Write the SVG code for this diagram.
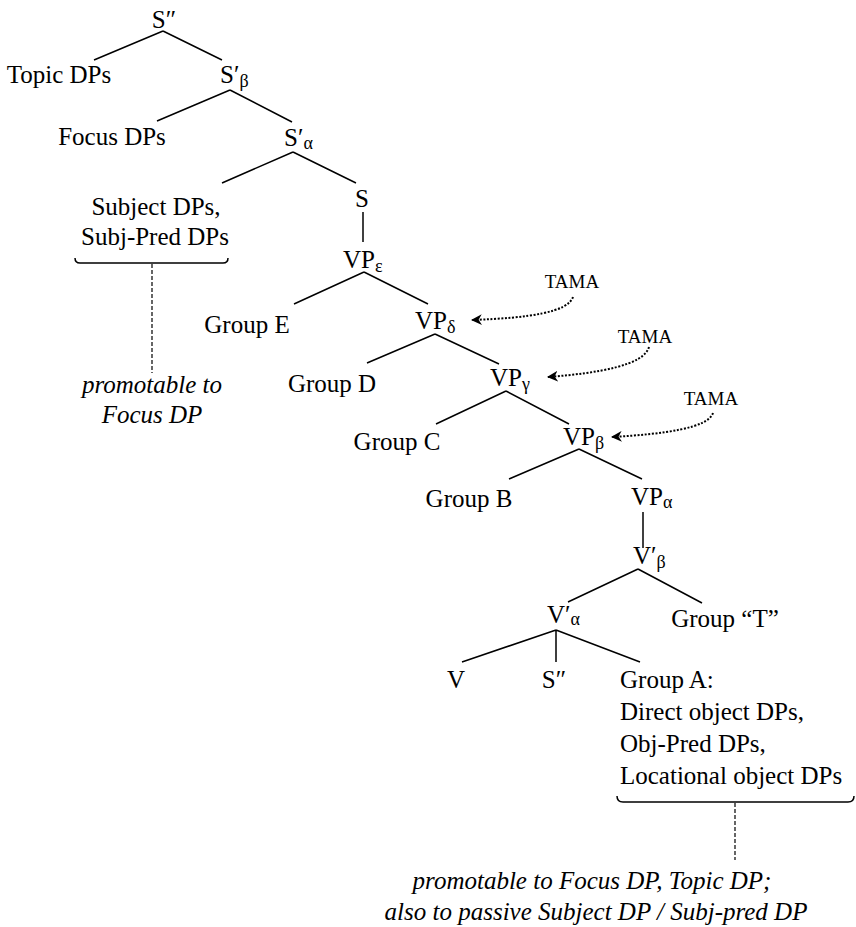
<svg xmlns="http://www.w3.org/2000/svg" width="856" height="927" viewBox="0 0 856 927">
<style>
text{font-family:"Liberation Serif","Times New Roman",serif;font-size:25px;fill:#000}
.m{text-anchor:middle}
.sub{font-size:18px}
.it{font-style:italic}
.tama{font-size:19px;text-anchor:middle}
.edge{stroke:#000;stroke-width:1.5;fill:none}
.dash{stroke:#000;stroke-width:1.2;stroke-dasharray:4 2;fill:none}
.dot{stroke:#000;stroke-width:2;stroke-dasharray:2 1.6;fill:none}
.brace{stroke:#000;stroke-width:1.5;fill:none}
</style>
<defs>
<marker id="ah" viewBox="0 0 10 10" refX="9" refY="5" markerWidth="11" markerHeight="11" markerUnits="userSpaceOnUse" orient="auto">
<path d="M0,0 L10,5 L0,10 L3,5 z" fill="#000"/>
</marker>
</defs>
<g id="connectors">
<path class="edge" d="M163,31 L94,60 M163,31 L222,60"/>
<path class="edge" d="M230,90 L157,121 M230,90 L292,122"/>
<path class="edge" d="M293,152 L222,183 M293,152 L356,183"/>
<path class="edge" d="M363,212 L363,242"/>
<path class="edge" d="M364,272 L294,304 M364,272 L428,304"/>
<path class="edge" d="M435,334 L367,363 M435,334 L499,364"/>
<path class="edge" d="M506,391 L436,424 M506,391 L569,424"/>
<path class="edge" d="M579,449 L509,479 M579,449 L642,479"/>
<path class="edge" d="M643,512 L643,548"/>
<path class="edge" d="M638,569 L568,602 M638,569 L702,603"/>
<path class="edge" d="M556,630 L462,662 M556,630 L556,662 M556,630 L640,662"/>
<path class="brace" d="M75,258 Q75,263 80,263 L223,263 Q228,263 228,258"/>
<path class="dash" d="M152,264 L152,373"/>
<path class="brace" d="M617,796 Q617,802 623,802 L848,802 Q854,802 854,796"/>
<path class="dash" d="M735,803 L735,860"/>
<path class="dot" d="M573,297 C568,312 530,318 472,320" marker-end="url(#ah)"/>
<path class="dot" d="M649,347 C644,365 600,373 548,377" marker-end="url(#ah)"/>
<path class="dot" d="M713,413 C708,428 665,434 612,437" marker-end="url(#ah)"/>
</g>
<g id="n-S2top"><text class="m" x="164" y="28">S″</text></g>
<g id="n-topic"><text class="m" x="59" y="83">Topic DPs</text></g>
<g id="n-Sb"><text x="220" y="83">S′<tspan class="sub" dy="4">β</tspan></text></g>
<g id="n-focus"><text class="m" x="112" y="145">Focus DPs</text></g>
<g id="n-Sa"><text x="284" y="146">S′<tspan class="sub" dy="3">α</tspan></text></g>
<g id="n-subject"><text class="m" x="156" y="215">Subject DPs,</text><text class="m" x="155" y="245">Subj-Pred DPs</text></g>
<g id="n-S"><text class="m" x="362" y="207">S</text></g>
<g id="n-VPe"><text x="343" y="268">VP<tspan class="sub" dy="4">ε</tspan></text></g>
<g id="n-groupE"><text class="m" x="247" y="333">Group E</text></g>
<g id="n-VPd"><text x="415" y="329">VP<tspan class="sub" dy="4">δ</tspan></text></g>
<g id="n-groupD"><text class="m" x="332" y="392">Group D</text></g>
<g id="n-VPg"><text x="490" y="386">VP<tspan class="sub" dy="4">γ</tspan></text></g>
<g id="n-groupC"><text class="m" x="397" y="450">Group C</text></g>
<g id="n-VPb"><text x="563" y="445">VP<tspan class="sub" dy="4">β</tspan></text></g>
<g id="n-groupB"><text class="m" x="469" y="507">Group B</text></g>
<g id="n-VPa"><text x="631" y="505">VP<tspan class="sub" dy="3">α</tspan></text></g>
<g id="n-Vb"><text x="633" y="564">V′<tspan class="sub" dy="4">β</tspan></text></g>
<g id="n-Va"><text x="547" y="623">V′<tspan class="sub" dy="2">α</tspan></text></g>
<g id="n-groupT"><text class="m" x="725" y="627">Group “T”</text></g>
<g id="n-V"><text class="m" x="456" y="688">V</text></g>
<g id="n-S2low"><text class="m" x="554" y="688">S″</text></g>
<g id="n-groupA">
<text x="620" y="688">Group A:</text>
<text x="620" y="720">Direct object DPs,</text>
<text x="620" y="752">Obj-Pred DPs,</text>
<text x="620" y="784">Locational object DPs</text>
</g>
<g id="n-tama1"><text class="tama" x="572" y="288">TAMA</text></g>
<g id="n-tama2"><text class="tama" x="645" y="343">TAMA</text></g>
<g id="n-tama3"><text class="tama" x="711" y="405">TAMA</text></g>
<g id="n-note1"><text class="m it" x="152" y="393">promotable to</text><text class="m it" x="152" y="423">Focus DP</text></g>
<g id="n-note2"><text class="m it" x="592" y="889">promotable to Focus DP, Topic DP;</text><text class="m it" x="596" y="920">also to passive Subject DP / Subj-pred DP</text></g>
</svg>
